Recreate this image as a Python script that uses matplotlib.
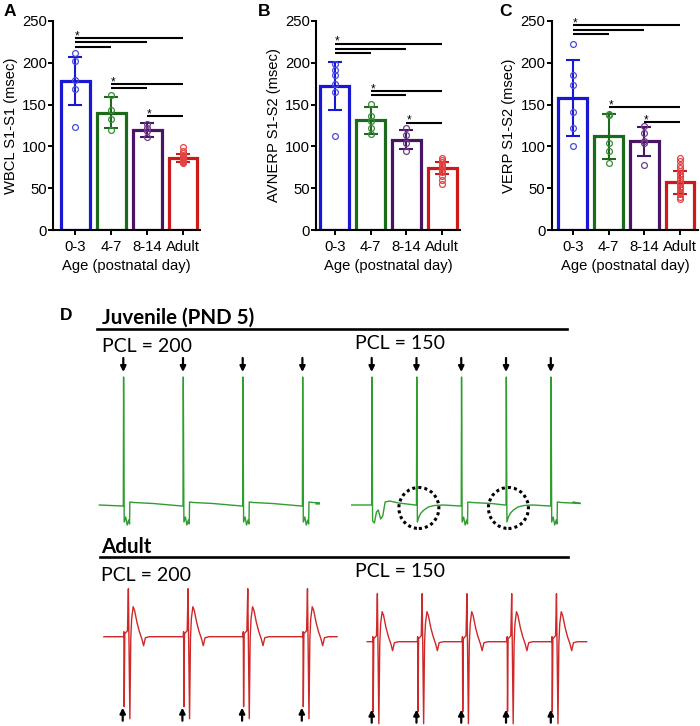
import numpy as np
import matplotlib
matplotlib.use('Agg')
import matplotlib.pyplot as plt
from matplotlib.patches import Ellipse

# ---------------- data ----------------
groups = ['0-3', '4-7', '8-14', 'Adult']

wbcl_mean = [178, 140, 120, 86]
wbcl_sd = [28.5, 18.5, 8.5, 5]
wbcl_pts = [[212, 202, 180, 169, 123],
            [162, 144, 133, 120],
            [127, 122, 118, 111],
            [99, 95, 92, 90, 88, 87, 86, 85, 84, 83, 82, 81, 80]]
wbcl_sig = [(0, 3, 230), (0, 2, 224.5), (0, 1, 219),
            (1, 3, 174.6), (1, 2, 170),
            (2, 3, 136)]

avnerp_mean = [172, 131, 108, 74]
avnerp_sd = [29, 16, 11.5, 7.5]
avnerp_pts = [[199, 191, 185, 175, 165, 112],
              [151, 136, 130, 122, 115],
              [122, 114, 104, 94],
              [86, 84, 81, 78, 76, 74, 72, 69, 65, 60, 55]]
avnerp_sig = [(0, 3, 223), (0, 2, 217), (0, 1, 212),
              (1, 3, 166.6), (1, 2, 161.8),
              (2, 3, 128.5)]

verp_mean = [158, 112, 106, 57]
verp_sd = [45.5, 26.5, 17, 14]
verp_pts = [[223, 185, 174, 141, 122, 100],
            [139, 137, 104, 94, 80],
            [124, 116, 107, 104, 78],
            [86, 82, 78, 74, 70, 67, 64, 61, 58, 55, 52, 49, 46, 43, 40, 37]]
verp_sig = [(0, 3, 245), (0, 2, 239.6), (0, 1, 234.4),
            (1, 3, 147),
            (2, 3, 129.5)]

# ECG-like traces (time in ms relative to each paced beat, amplitude in a.u.)
juv_notch_t = [-4, 0, 1, 3, 8, 13, 18, 21, 22, 35, 100]
juv_notch_v = [-1, -1, 128, -17, -12, -20, -15, -19, 3, 2.5, 1.5]
juv_w_t = [-4, 0, 1, 3, 9, 16, 22, 30, 37, 45, 60, 90]
juv_w_v = [0, 0, 128, -16, -18, -7, -5, -14, -11, 3, 4, 2]
juv_exp_t = [-4, 0, 1, 3, 8, 15, 25, 40, 60, 90]
juv_exp_v = [0, 0, 128, -17, -12, -8, -5, -2, -0.5, 0]
adult_t = [-3, 3, 4, 5, 7, 16, 19, 24, 27, 30, 35, 40, 48, 56, 64, 70, 76, 90]
adult_v = [0, 0, 5, -70, 3, 6, 48, -82, -2, 18, 30, 26, 14, 5, -2, -9, -1, 0]

juv200_beats = [0, 200, 400, 600]
juv200_kinds = ['N', 'N', 'N', 'N']
juv150_beats = [0, 150, 300, 450, 600]
juv150_kinds = ['W', 'E', 'N', 'E', 'N']
juv150_circled = [150, 450]
adult200_beats = [0, 200, 400, 600]
adult150_beats = [0, 150, 300, 450, 600]

# ---------------- figure ----------------
W, H = 700, 726
fig = plt.figure(figsize=(W / 100, H / 100), dpi=100)

bar_colors = ['#1717d4', '#1c6b1c', '#4a1465', '#cc1a1a']
pt_colors = ['#4a4ae0', '#3a8a3a', '#6f3c8a', '#e04545']
SANS = ['Liberation Sans', 'DejaVu Sans']


def px_axes(x0, y0, x1, y1):
    return fig.add_axes([x0 / W, 1 - y1 / H, (x1 - x0) / W, (y1 - y0) / H])


def ftext(x, y, s, **kw):
    fig.text(x / W, 1 - y / H, s, **kw)


def bar_panel(rect, xlim, means, sds, pts, sig, ylabel):
    ax = px_axes(*rect)
    x = np.arange(len(groups))
    for i in range(len(groups)):
        ax.bar(x[i], means[i], width=0.8, facecolor='white',
               edgecolor=bar_colors[i], linewidth=2.3, zorder=2)
        ax.errorbar(x[i], means[i], yerr=sds[i], color=bar_colors[i],
                    capsize=5, elinewidth=1.5, capthick=1.5, zorder=3)
        ax.plot(np.full(len(pts[i]), x[i]), pts[i], 'o', mfc='none',
                mec=pt_colors[i], ms=4.2, mew=0.9, zorder=4)
    for a, b, y in sig:
        ax.plot([a, b], [y, y], color='black', lw=1.5, clip_on=False,
                solid_capstyle='butt', zorder=5)
    starts = sorted(set(s[0] for s in sig))
    for a in starts:
        ytop = max(s[2] for s in sig if s[0] == a)
        ax.text(a + 0.06, ytop - 1.5, '*', ha='center', va='baseline',
                fontsize=8.5, family=SANS, clip_on=False)
    ax.set_xlim(*xlim)
    ax.set_ylim(0, 250)
    ax.set_yticks([0, 50, 100, 150, 200, 250])
    ax.set_xticks(x)
    ax.set_xticklabels(groups)
    for sp in ['top', 'right']:
        ax.spines[sp].set_visible(False)
    for sp in ['left', 'bottom']:
        ax.spines[sp].set_linewidth(1.5)
    ax.tick_params(axis='both', width=1.4, length=3.5, labelsize=10.7)
    ax.tick_params(axis='y', pad=1)
    ax.tick_params(axis='x', pad=3.5)
    for lab in ax.get_xticklabels() + ax.get_yticklabels():
        lab.set_family(SANS)
    ax.set_ylabel(ylabel, fontsize=10.6, family=SANS, labelpad=3)
    ax.set_xlabel('Age (postnatal day)', fontsize=10.6, family=SANS, labelpad=4)
    return ax


bar_panel((53.3, 21, 200, 230), (-0.613, 3.47), wbcl_mean, wbcl_sd, wbcl_pts,
          wbcl_sig, 'WBCL S1-S1 (msec)')
bar_panel((316, 21, 460, 230), (-0.52, 3.49), avnerp_mean, avnerp_sd, avnerp_pts,
          avnerp_sig, 'AVNERP S1-S2 (msec)')
bar_panel((551.7, 21, 698, 230), (-0.587, 3.5), verp_mean, verp_sd, verp_pts,
          verp_sig, 'VERP S1-S2 (msec)')

for lx, ly, s in [(4, 11, 'A'), (258, 11, 'B'), (499, 11, 'C'), (60, 316, 'D')]:
    ftext(lx, ly, s, fontsize=12.5, fontweight='bold', family=SANS,
          ha='left', va='center')

# ---------------- panel D ----------------
PX_PER_MS = 0.2985
templates = {'N': (juv_notch_t, juv_notch_v),
             'W': (juv_w_t, juv_w_v),
             'E': (juv_exp_t, juv_exp_v),
             'A': (adult_t, adult_v)}


def trace_axes(beat0_px, base_px, xlim, ylim):
    x0 = beat0_px + xlim[0] * PX_PER_MS
    w = (xlim[1] - xlim[0]) * PX_PER_MS
    ytop = base_px - ylim[1]
    h = ylim[1] - ylim[0]
    ax = fig.add_axes([x0 / W, 1 - (ytop + h) / H, w / W, h / H])
    ax.set_xlim(*xlim)
    ax.set_ylim(*ylim)
    ax.axis('off')
    return ax


def build_trace(beats, kinds, t_start, t_end, v_start, v_end):
    t = [t_start]
    v = [v_start]
    for b, k in zip(beats, kinds):
        tt, vv = templates[k]
        t += [b + x for x in tt]
        v += list(vv)
    t.append(t_end)
    v.append(v_end)
    return t, v


def arrows(ax, beats, tail, tip):
    for b in beats:
        ax.annotate('', xy=(b, tip), xytext=(b, tail), annotation_clip=False,
                    arrowprops=dict(arrowstyle='-|>', color='black', lw=1.6,
                                    mutation_scale=8, shrinkA=0, shrinkB=0))


GREEN = '#2e9e2e'
RED = '#d02828'

ax = trace_axes(123.3, 505, (-90, 660), (-35, 155))
t, v = build_trace(juv200_beats, juv200_kinds, -80, 646, 0, 1)
ax.plot(t, v, color=GREEN, lw=1.0)
arrows(ax, juv200_beats, 147, 133)

ax = trace_axes(371.7, 505, (-80, 700), (-35, 155))
t, v = build_trace(juv150_beats, juv150_kinds, -67, 675, 0, 3)
ax.plot(t, v, color=GREEN, lw=1.0)
arrows(ax, juv150_beats, 147, 133)
for c in juv150_circled:
    ax.add_patch(Ellipse((c + 8, -3), 134, 41, fill=False, edgecolor='black',
                         lw=2.2, linestyle=(0, (1, 1))))

ax = trace_axes(122.7, 636.7, (-75, 730), (-90, 60))
t, v = build_trace(adult200_beats, ['A'] * 4, -63, 718, 0, 0)
ax.plot(t, v, color=RED, lw=1.0)
arrows(ax, adult200_beats, -84, -71)

ax = trace_axes(371.7, 641.7, (-25, 740), (-90, 60))
t, v = build_trace(adult150_beats, ['A'] * 5, -15, 720, 0, 0)
ax.plot(t, v, color=RED, lw=1.0)
arrows(ax, adult150_beats, -81, -68)

LATO = ['Lato', 'DejaVu Sans']
ftext(102, 324, 'Juvenile (PND 5)', fontsize=14.8, fontweight='bold',
      family=LATO, va='baseline')
ftext(102, 351.7, 'PCL = 200', fontsize=14, family=LATO, va='baseline')
ftext(355, 349.3, 'PCL = 150', fontsize=14, family=LATO, va='baseline')
ftext(101, 552.7, 'Adult', fontsize=14.8, fontweight='bold', family=LATO,
      va='baseline')
ftext(101, 581, 'PCL = 200', fontsize=14, family=LATO, va='baseline')
ftext(355, 577.3, 'PCL = 150', fontsize=14, family=LATO, va='baseline')

for y, x0, x1 in [(329.3, 96.7, 566.7), (556.7, 100, 568.3)]:
    fig.add_artist(plt.Line2D([x0 / W, x1 / W], [1 - y / H, 1 - y / H],
                              color='black', lw=1.9))

fig.savefig('out.png', dpi=100)
